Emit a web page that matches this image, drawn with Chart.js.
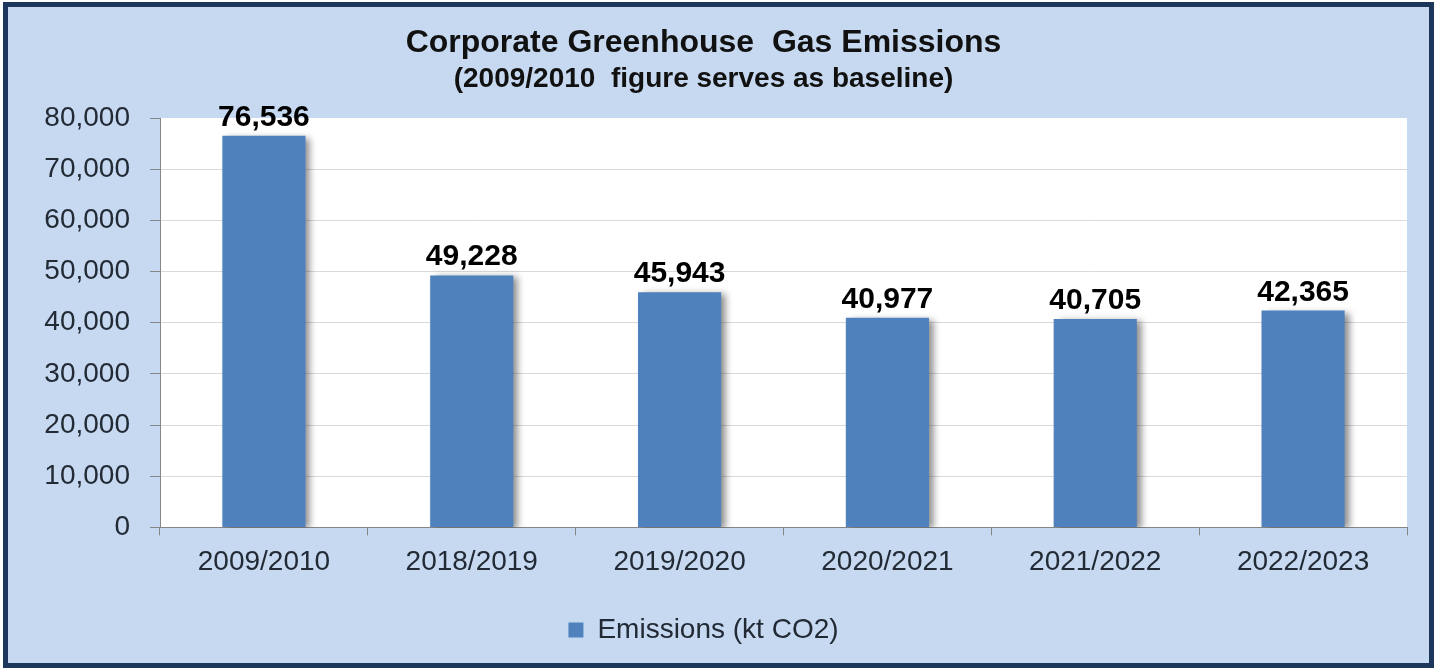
<!DOCTYPE html>
<html>
<head>
<meta charset="utf-8">
<title>Corporate Greenhouse Gas Emissions</title>
<script src="https://cdn.jsdelivr.net/npm/chart.js@4.4.1/dist/chart.umd.min.js"></script>
<style>
  html, body { margin: 0; padding: 0; background: #ffffff; }
  #frame {
    position: absolute; left: 3px; top: 2px; width: 1431px; height: 666px;
    box-sizing: border-box; border: 5px solid #1d365c; background: #c6d9f0;
  }
  #chart { position: absolute; left: 0; top: 0; }
</style>
</head>
<body>
<div id="frame"></div>
<canvas id="chart" width="1440" height="668"></canvas>
<script>
// data
const categories = ['2009/2010', '2018/2019', '2019/2020', '2020/2021', '2021/2022', '2022/2023'];
const emissions = [76536, 49228, 45943, 40977, 40705, 42365];
const seriesName = 'Emissions (kt CO2)';
const yMax = 80000;
const yStep = 10000;

const FONT = '"Liberation Sans", Arial, sans-serif';
const fmt = (v) => v.toLocaleString('en-US');

// white plot area behind the bars
const plotBackground = {
  id: 'plotBackground',
  beforeDraw(chart) {
    const { ctx, chartArea } = chart;
    ctx.save();
    ctx.fillStyle = '#ffffff';
    ctx.fillRect(chartArea.left, chartArea.top, chartArea.right - chartArea.left, chartArea.bottom - chartArea.top);
    ctx.restore();
  }
};

// soft shadow to the right of each bar
const barShadow = {
  id: 'barShadow',
  beforeDatasetDraw(chart) {
    const ctx = chart.ctx;
    ctx.save();
    ctx.shadowColor = 'rgba(0, 0, 0, 0.45)';
    ctx.shadowOffsetX = 5;
    ctx.shadowOffsetY = 2;
    ctx.shadowBlur = 7;
  },
  afterDatasetDraw(chart) {
    chart.ctx.restore();
  }
};

// values above the bars
const valueLabels = {
  id: 'valueLabels',
  afterDatasetsDraw(chart) {
    const ctx = chart.ctx;
    const meta = chart.getDatasetMeta(0);
    ctx.save();
    ctx.font = 'bold 30px ' + FONT;
    ctx.fillStyle = '#000000';
    ctx.textAlign = 'center';
    ctx.textBaseline = 'alphabetic';
    meta.data.forEach((bar, i) => {
      ctx.fillText(fmt(chart.data.datasets[0].data[i]), bar.x, bar.y - 10);
    });
    ctx.restore();
  }
};

new Chart(document.getElementById('chart'), {
  type: 'bar',
  data: {
    labels: categories,
    datasets: [{
      label: seriesName,
      data: emissions,
      backgroundColor: '#4f81bd',
      borderWidth: 0,
      categoryPercentage: 1,
      barPercentage: 0.4
    }]
  },
  options: {
    responsive: false,
    animation: false,
    layout: { padding: { left: 0, right: 33, top: 8, bottom: 14 } },
    scales: {
      x: {
        grid: { drawOnChartArea: false, tickLength: 8, tickColor: '#868686', offset: true },
        border: { color: '#868686', width: 1 },
        ticks: { color: '#222a35', font: { family: FONT, size: 28 }, padding: 10, maxRotation: 0 }
      },
      y: {
        min: 0,
        max: yMax,
        afterFit(scale) { scale.width = 160; },
        grid: {
          color: (c) => (c.tick && c.tick.value === yMax) ? 'rgba(0,0,0,0)' : '#d9d9d9',
          tickLength: 10,
          tickColor: '#868686'
        },
        border: { color: '#868686', width: 1 },
        ticks: {
          stepSize: yStep,
          color: '#222a35',
          font: { family: FONT, size: 28 },
          padding: 20,
          callback: (v) => fmt(v)
        }
      }
    },
    plugins: {
      title: {
        display: true,
        text: 'Corporate Greenhouse  Gas Emissions',
        color: '#111111',
        font: { family: FONT, size: 32, weight: 'bold' },
        padding: { top: 16, bottom: 0 }
      },
      subtitle: {
        display: true,
        text: '(2009/2010  figure serves as baseline)',
        color: '#111111',
        font: { family: FONT, size: 28, weight: 'bold' },
        padding: { top: 0, bottom: 22 }
      },
      legend: {
        position: 'bottom',
        labels: {
          boxWidth: 15,
          boxHeight: 15,
          padding: 27,
          color: '#222a35',
          font: { family: FONT, size: 28 }
        }
      },
      tooltip: { enabled: false }
    }
  },
  plugins: [plotBackground, barShadow, valueLabels]
});
</script>
</body>
</html>
